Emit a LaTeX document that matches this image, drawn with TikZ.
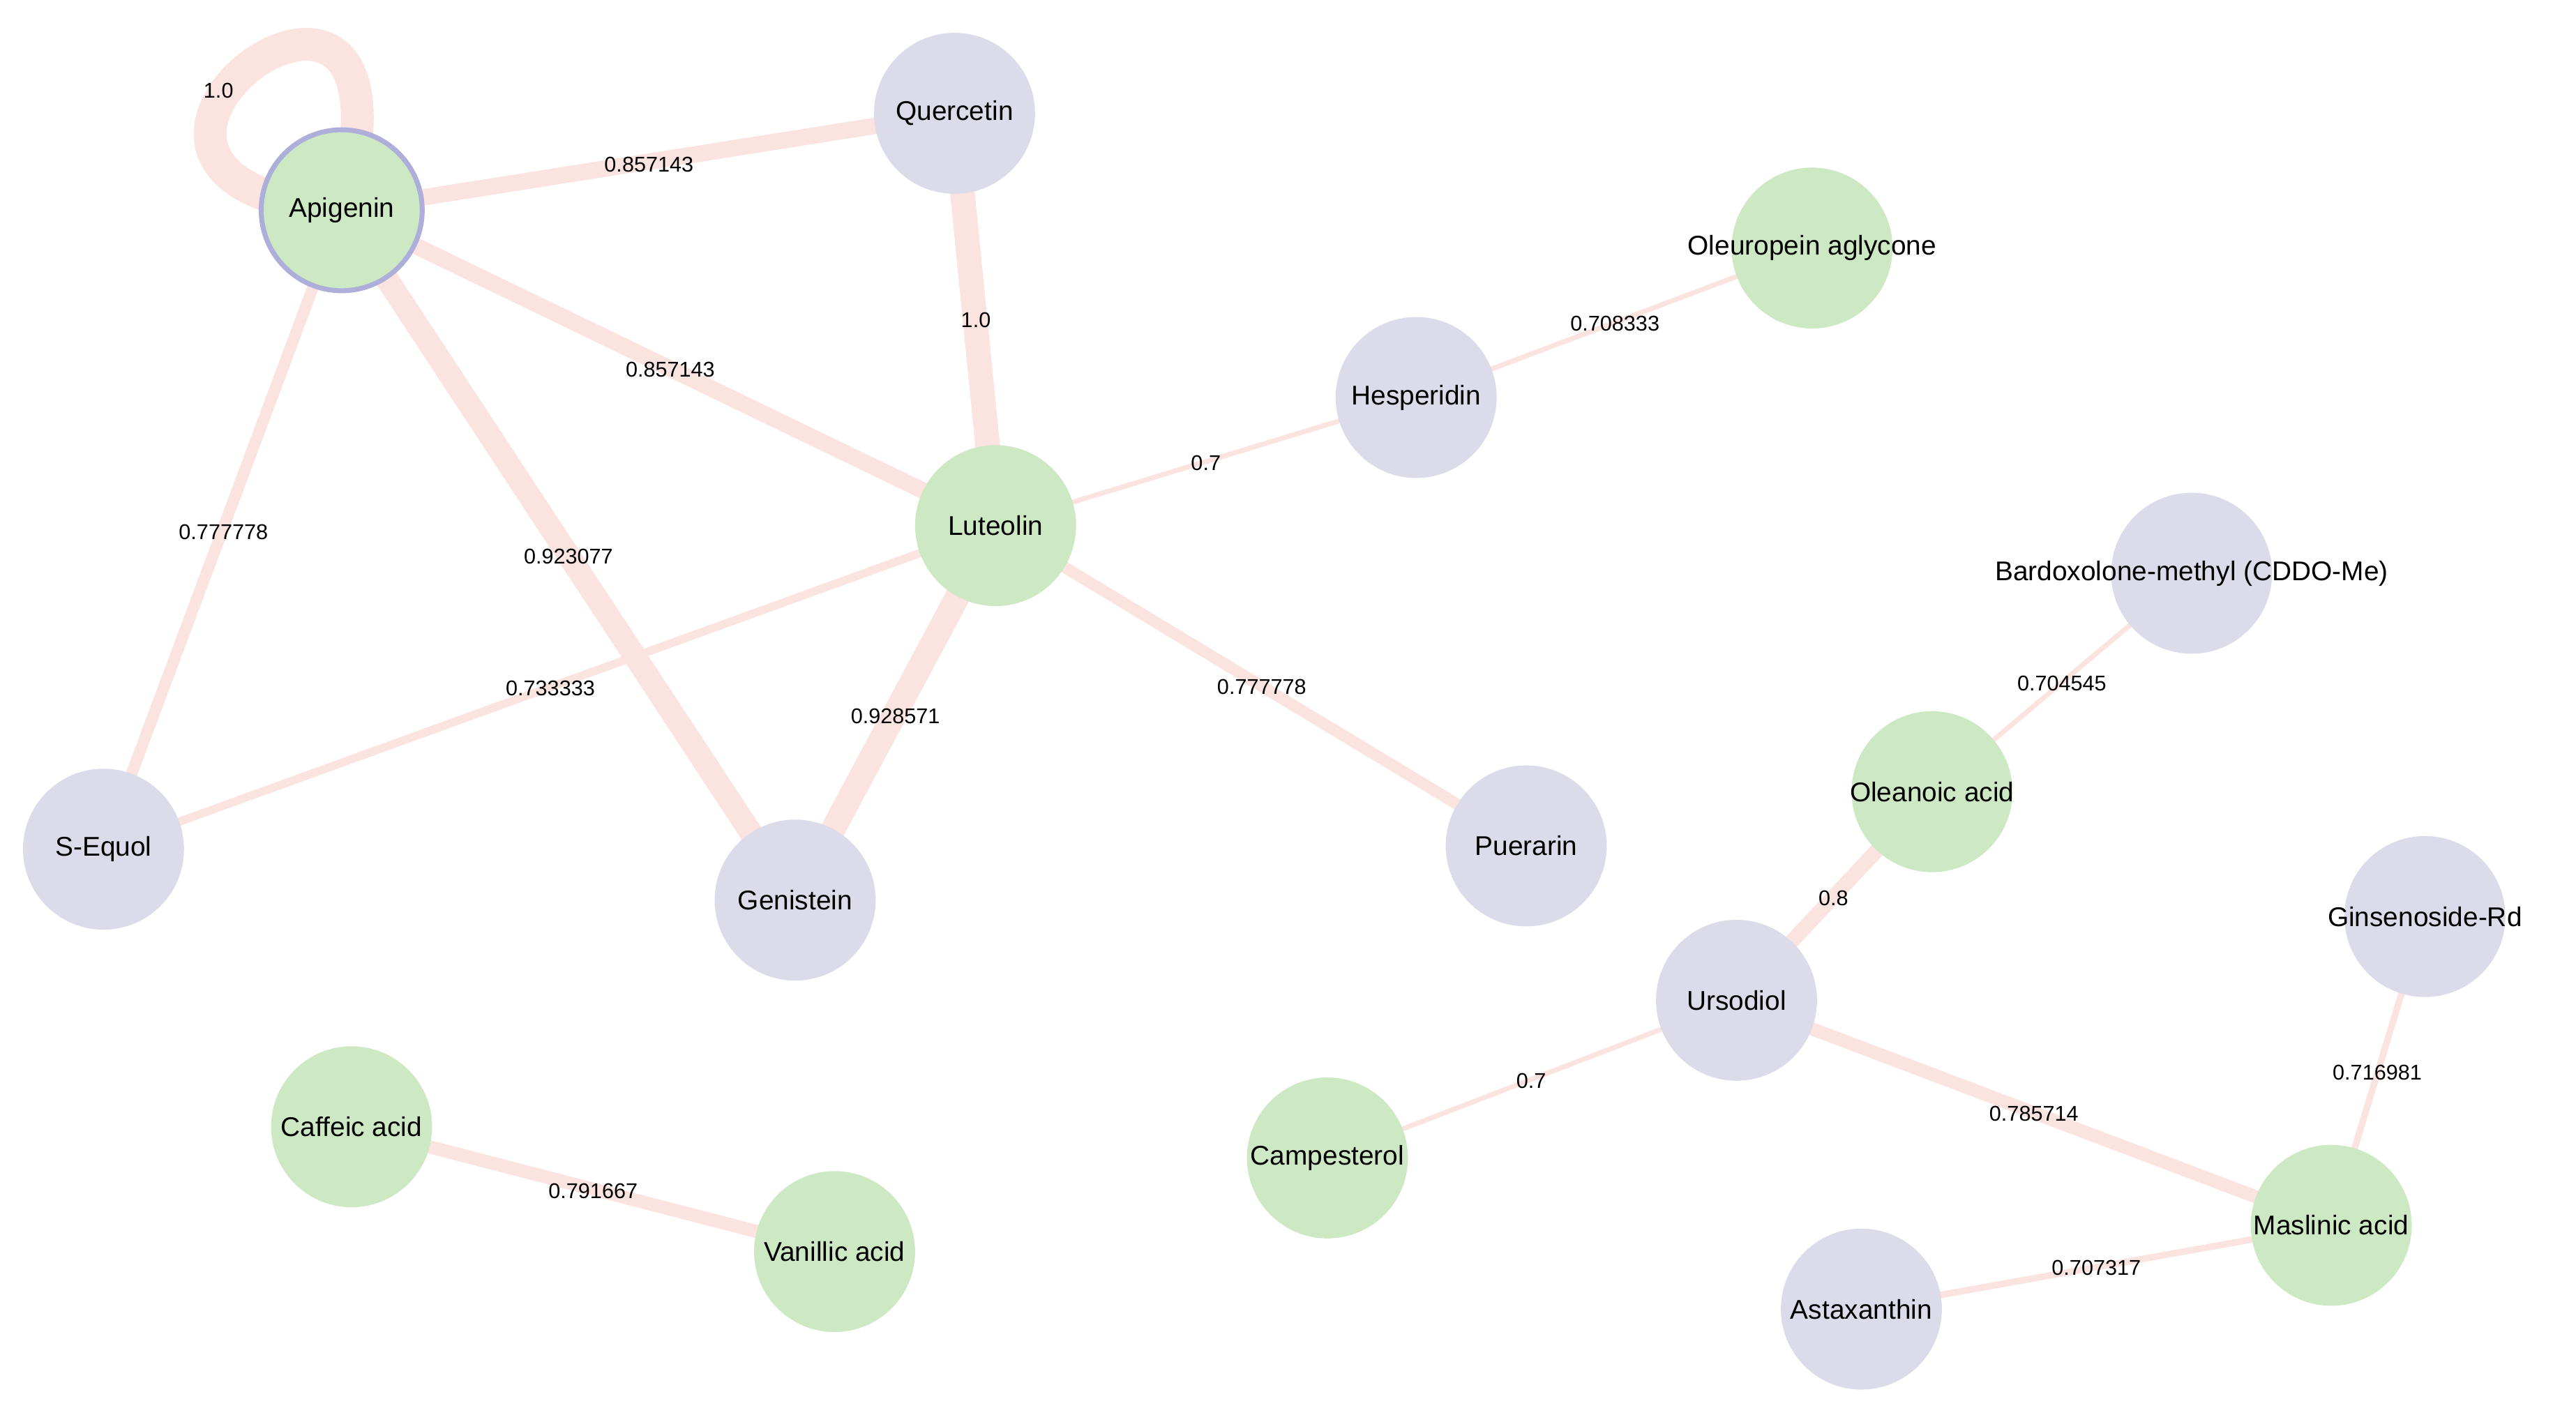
\documentclass[tikz,border=0pt]{standalone}
\usepackage{fontspec}
\setmainfont{Liberation Sans}
\usetikzlibrary{backgrounds}
\definecolor{gn}{HTML}{CDE9C4}
\definecolor{lv}{HTML}{DCDBEA}
\definecolor{ed}{HTML}{FBE3DF}
\definecolor{bd}{HTML}{AEAEDA}
\tikzset{
 nt/.style={font=\fontsize{16.5}{16.5}\selectfont,inner sep=0pt},
 g/.style={circle,fill=gn,minimum size=98pt,inner sep=0pt,label={[nt]center:#1}},
 l/.style={circle,fill=lv,minimum size=98pt,inner sep=0pt,label={[nt]center:#1}},
 e/.style={draw=ed,line width=#1},
 lab/.style={font=\fontsize{13}{13}\selectfont,inner sep=1pt}
}
\begin{document}
\begin{tikzpicture}[x=1pt,y=-1pt]
\useasboundingbox (0,0) rectangle (1568,857);
\node[g=Apigenin,draw=bd,line width=3pt] (api) at (208,128) {};
\node[l=Quercetin] (que) at (581,69) {};
\node[g=Oleuropein aglycone] (ole) at (1103,151) {};
\node[l=Hesperidin] (hes) at (862,242) {};
\node[g=Luteolin] (lut) at (606,320) {};
\node[l=Bardoxolone-methyl (CDDO-Me)] (bar) at (1334,349) {};
\node[g=Oleanoic acid] (oa) at (1176,482) {};
\node[l=S-Equol] (seq) at (63,517) {};
\node[l=Genistein] (gen) at (484,548) {};
\node[l=Puerarin] (pue) at (929,515) {};
\node[l=Ginsenoside-Rd] (gin) at (1476,558) {};
\node[l=Ursodiol] (urs) at (1057,609) {};
\node[g=Caffeic acid] (caf) at (214,686) {};
\node[g=Campesterol] (cam) at (808,705) {};
\node[g=Vanillic acid] (van) at (508,762) {};
\node[g=Maslinic acid] (mas) at (1419,746) {};
\node[l=Astaxanthin] (ast) at (1133,797) {};
\begin{scope}[on background layer]
\draw[e=20pt] (api.center) .. controls (0,110) and (270,-90) .. (api.center);
\draw[e=10pt] (api.center) -- (que.center);
\draw[e=10pt] (api.center) -- (lut.center);
\draw[e=7pt] (api.center) -- (seq.center);
\draw[e=14pt] (api.center) -- (gen.center);
\draw[e=15pt] (que.center) -- (lut.center);
\draw[e=3pt] (lut.center) -- (hes.center);
\draw[e=3pt] (hes.center) -- (ole.center);
\draw[e=5pt] (lut.center) -- (seq.center);
\draw[e=15pt] (lut.center) -- (gen.center);
\draw[e=7pt] (lut.center) -- (pue.center);
\draw[e=3pt] (bar.center) -- (oa.center);
\draw[e=9pt] (oa.center) -- (urs.center);
\draw[e=3pt] (urs.center) -- (cam.center);
\draw[e=8pt] (urs.center) -- (mas.center);
\draw[e=4pt] (gin.center) -- (mas.center);
\draw[e=4pt] (ast.center) -- (mas.center);
\draw[e=8pt] (caf.center) -- (van.center);
\end{scope}
\node[lab] (l1) at (133,55) {1.0};
\node[lab] (l2) at (395,100) {0.857143};
\node[lab] (l3) at (594,195) {1.0};
\node[lab] (l4) at (408,225) {0.857143};
\node[lab] (l5) at (983,197) {0.708333};
\node[lab] (l6) at (734,282) {0.7};
\node[lab] (l7) at (136,324) {0.777778};
\node[lab] (l8) at (346,339) {0.923077};
\node[lab] (l9) at (335,419) {0.733333};
\node[lab] (l10) at (545,436) {0.928571};
\node[lab] (l11) at (768,418) {0.777778};
\node[lab] (l12) at (1255,416) {0.704545};
\node[lab] (l13) at (1116,547) {0.8};
\node[lab] (l14) at (1447,653) {0.716981};
\node[lab] (l15) at (932,658) {0.7};
\node[lab] (l16) at (1238,678) {0.785714};
\node[lab] (l17) at (361,725) {0.791667};
\node[lab] (l18) at (1276,772) {0.707317};
\end{tikzpicture}
\end{document}
